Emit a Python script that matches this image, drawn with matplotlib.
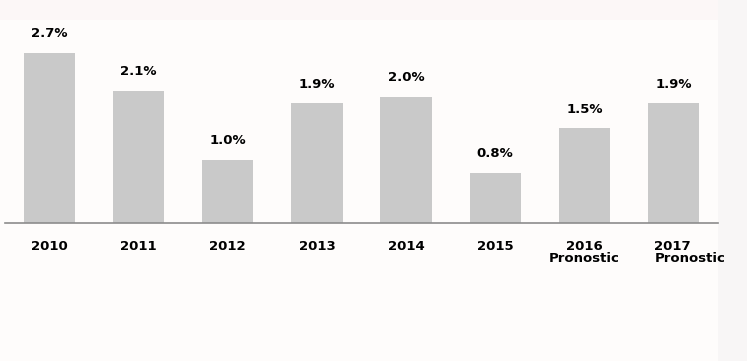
import matplotlib
matplotlib.use("Agg")
import matplotlib.pyplot as plt
from matplotlib.patches import Rectangle
from matplotlib.transforms import ScaledTranslation

years = ["2010", "2011", "2012", "2013", "2014", "2015", "2016\nPronostic", "2017\nPronostic"]
growth = [2.7, 2.1, 1.0, 1.9, 2.0, 0.8, 1.5, 1.9]
value_labels = ["2.7%", "2.1%", "1.0%", "1.9%", "2.0%", "0.8%", "1.5%", "1.9%"]

W, H = 747, 361
fig = plt.figure(figsize=(W / 100, H / 100), dpi=100)
fig.patch.set_facecolor("#fefcfb")

# light background bands like the source slide
fig.patches.append(Rectangle((0, 1 - 20 / H), 1, 20 / H, transform=fig.transFigure,
                             facecolor="#fcf7f7", edgecolor="none", zorder=-5))
fig.patches.append(Rectangle((718 / W, 0), 1 - 718 / W, 1, transform=fig.transFigure,
                             facecolor="#f8f6f6", edgecolor="none", zorder=-5))

ax = fig.add_axes([5 / W, (H - 223) / H, 713 / W, 203 / H])
ax.set_facecolor("none")

x = list(range(len(years)))
bars = ax.bar(x, growth, width=0.575, color="#c9c9c9", zorder=2)

for xi, v, lab in zip(x, growth, value_labels):
    ax.annotate(lab, (xi, v), xytext=(0, 9), textcoords="offset points",
                ha="center", va="bottom", fontsize=9.5, fontweight="bold", color="black")

ax.set_xlim(-0.5, 7.5)
ax.set_ylim(0, 3.22)
ax.set_yticks([])
ax.set_xticks(x)
ax.set_xticklabels(years, fontsize=9.5, fontweight="bold", linespacing=0.95)
ax.tick_params(axis="x", length=0, pad=12)

for s in ["top", "right", "left"]:
    ax.spines[s].set_visible(False)
ax.spines["bottom"].set_color("#8c8c8c")
ax.spines["bottom"].set_linewidth(1.2)

# last label sits left-aligned in the source
last = ax.get_xticklabels()[-1]
last.set_ha("left")
last.set_multialignment("left")
last.set_transform(last.get_transform() + ScaledTranslation(-19 / 100, 0, fig.dpi_scale_trans))

fig.savefig("out.png", dpi=100, facecolor=fig.get_facecolor())
